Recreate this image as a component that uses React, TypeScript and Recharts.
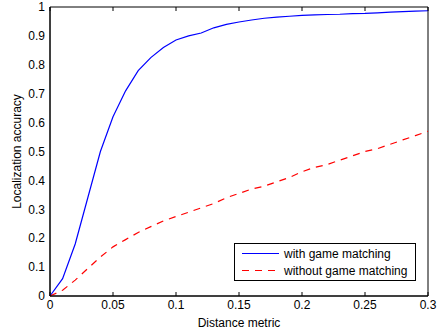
import { Legend, Line, LineChart, ReferenceArea, XAxis, YAxis } from "recharts";

const distance = [
  0, 0.01, 0.02, 0.03, 0.04, 0.05, 0.06, 0.07, 0.08, 0.09, 0.1, 0.11, 0.12, 0.13, 0.14, 0.15,
  0.16, 0.17, 0.18, 0.19, 0.2, 0.21, 0.22, 0.23, 0.24, 0.25, 0.26, 0.27, 0.28, 0.29, 0.3,
];

const withGame = [
  0, 0.06, 0.18, 0.34, 0.5, 0.62, 0.71, 0.78, 0.825, 0.86, 0.886, 0.9, 0.91, 0.928, 0.94, 0.948,
  0.955, 0.961, 0.965, 0.968, 0.971, 0.973, 0.974, 0.975, 0.977, 0.978, 0.98, 0.982, 0.984, 0.986, 0.987,
];

const withoutGame = [
  0, 0.02, 0.055, 0.095, 0.135, 0.17, 0.195, 0.22, 0.24, 0.26, 0.275, 0.29, 0.305, 0.32, 0.34, 0.355,
  0.37, 0.38, 0.395, 0.41, 0.43, 0.445, 0.455, 0.47, 0.485, 0.5, 0.51, 0.525, 0.54, 0.555, 0.57,
];

const xTicks = [0, 0.05, 0.1, 0.15, 0.2, 0.25, 0.3];
const yTicks = [0, 0.1, 0.2, 0.3, 0.4, 0.5, 0.6, 0.7, 0.8, 0.9, 1];

const series = [
  { key: "withGame", name: "with game matching", color: "#0000ff", dash: undefined },
  { key: "withoutGame", name: "without game matching", color: "#ff0000", dash: "7 6" },
];

const data = distance.map((x, i) => ({
  x,
  withGame: withGame[i],
  withoutGame: withoutGame[i],
}));

const font = "'Liberation Sans', Arial, Helvetica, sans-serif";
const tickStyle = { fontSize: 12, fill: "#000", fontFamily: font };
const TICK_LEN = 4;

// inward tick mark drawn at the axis position handed in by recharts
const innerTick = (dx: number, dy: number) => (props: any) => {
  const { x, y } = props;
  return <path d={`M${x},${y}l${dx},${dy}`} stroke="#000" strokeWidth={1} fill="none" />;
};

function LegendBox(props: any) {
  const items = props.payload ?? [];
  return (
    <div
      style={{
        border: "1px solid #000",
        background: "#fff",
        width: 180,
        paddingTop: 1,
        paddingBottom: 1,
        fontFamily: font,
        fontSize: 12,
        color: "#000",
      }}
    >
      {items.map((item: any) => {
        const s = series.find((d) => d.key === item.dataKey);
        return (
          <div key={item.value} style={{ display: "flex", alignItems: "center", height: 17 }}>
            <svg width={49} height={17}>
              <line
                x1={7}
                x2={44}
                y1={8.5}
                y2={8.5}
                stroke={item.color}
                strokeWidth={1.2}
                strokeDasharray={s?.dash}
              />
            </svg>
            <span style={{ whiteSpace: "nowrap" }}>{item.value}</span>
          </div>
        );
      })}
    </div>
  );
}

export default function App() {
  return (
    <div style={{ position: "absolute", left: 0, top: 0, background: "#fff" }}>
      <LineChart width={441} height={331} data={data} margin={{ top: 7, right: 13, bottom: 0, left: 0 }}>
        <XAxis
          xAxisId="bottom"
          dataKey="x"
          type="number"
          domain={[0, 0.3]}
          ticks={xTicks}
          interval={0}
          height={35}
          stroke="#000"
          tickLine={false}
          tickSize={0}
          tick={tickStyle}
          tickMargin={4}
          label={{
            value: "Distance metric",
            position: "insideBottom",
            offset: 4,
            style: { fontSize: 12, fill: "#000", fontFamily: font },
          }}
        />
        <XAxis
          xAxisId="bottomTicks"
          dataKey="x"
          type="number"
          domain={[0, 0.3]}
          ticks={xTicks}
          interval={0}
          height={1}
          mirror
          tickSize={0}
          tickMargin={0}
          tickLine={false}
          axisLine={false}
          tick={innerTick(0, -TICK_LEN)}
        />
        <XAxis
          xAxisId="top"
          orientation="top"
          dataKey="x"
          type="number"
          domain={[0, 0.3]}
          ticks={xTicks}
          interval={0}
          height={1}
          mirror
          tickSize={0}
          tickMargin={0}
          tickLine={false}
          axisLine={false}
          tick={innerTick(0, TICK_LEN)}
        />
        <YAxis
          yAxisId="left"
          type="number"
          domain={[0, 1]}
          ticks={yTicks}
          interval={0}
          width={50}
          stroke="#000"
          tickLine={false}
          tickSize={0}
          tick={tickStyle}
          tickMargin={5}
          label={{
            value: "Localization accuracy",
            angle: -90,
            position: "insideLeft",
            offset: 17,
            style: { fontSize: 12, fill: "#000", fontFamily: font, textAnchor: "middle" },
          }}
        />
        <YAxis
          yAxisId="leftTicks"
          type="number"
          domain={[0, 1]}
          ticks={yTicks}
          interval={0}
          width={1}
          mirror
          tickSize={0}
          tickMargin={0}
          tickLine={false}
          axisLine={false}
          tick={innerTick(TICK_LEN, 0)}
        />
        <YAxis
          yAxisId="right"
          orientation="right"
          type="number"
          domain={[0, 1]}
          ticks={yTicks}
          interval={0}
          width={1}
          mirror
          tickSize={0}
          tickMargin={0}
          tickLine={false}
          axisLine={false}
          tick={innerTick(-TICK_LEN, 0)}
        />
        <ReferenceArea
          xAxisId="bottom"
          yAxisId="left"
          x1={0}
          x2={0.3}
          y1={0}
          y2={1}
          fill="none"
          stroke="#000"
          strokeWidth={1}
          ifOverflow="visible"
        />
        <Legend
          layout="horizontal"
          verticalAlign="middle"
          align="center"
          content={LegendBox}
          wrapperStyle={{ left: 234, top: 243, width: 182 }}
        />
        {series.map((s) => (
          <Line
            key={s.key}
            xAxisId="bottom"
            yAxisId="left"
            type="linear"
            dataKey={s.key}
            name={s.name}
            stroke={s.color}
            strokeWidth={1.2}
            strokeDasharray={s.dash}
            dot={false}
            activeDot={false}
            isAnimationActive={false}
          />
        ))}
      </LineChart>
    </div>
  );
}
